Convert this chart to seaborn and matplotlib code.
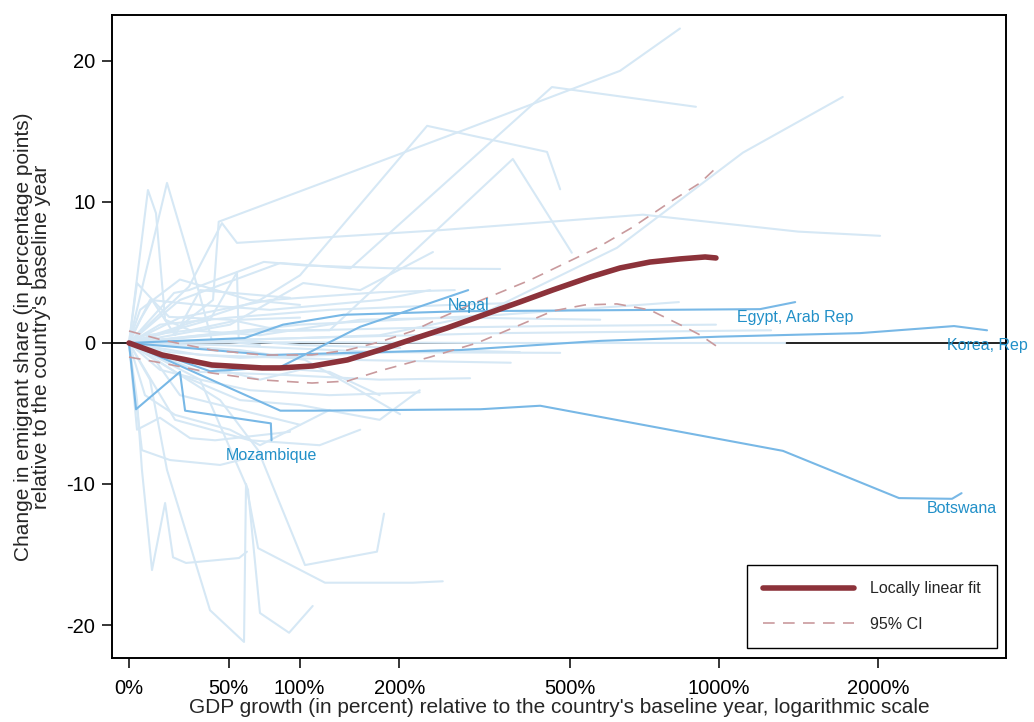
import numpy as np
import pandas as pd
import matplotlib
matplotlib.use("Agg")
import matplotlib.pyplot as plt
import seaborn as sns

# ---------------------------------------------------------------------------
# Data: GDP growth since the baseline year (percent) and change in the
# emigrant share (percentage points), one path per country.
# ---------------------------------------------------------------------------
bg_growth = [
    [0, 20.6, 40.7, 44, 284, 636, 839],
    [0, 27.6, 45.9, 55.1, 254, 708, 1417, 2018],
    [0, 70.3, 100.4, 236, 447, 477],
    [0, 23, 84.8, 146, 458, 902],
    [0, 63.5, 126, 376, 505],
    [0, 100.4, 177, 317, 627, 1113, 1720],
    [0, 3.3, 5.4, 9.8, 15.8, 19.6, 26.1, 56.4, 61.5],
    [0, 8.9, 16.7, 39, 59.6, 60.9, 69, 121.8, 217, 258],
    [0, 33.5, 62.2, 70.3, 91.7, 111],
    [0, 44.8, 69, 104.5, 174, 182],
    [0, 8.0, 11.6, 15.8, 28.2, 57, 100.4],
    [0, 16.7, 25, 33, 40, 70.3],
    [0, 3.3, 12.1, 17.7, 50.8, 84.8],
    [0, 20.1, 27.6, 73, 104.5, 189, 352],
    [0, 39, 55.1, 56.2, 100.4, 201],
    [0, 4.6, 9.8, 20.6, 33.5, 92.4],
    [0, 33.5, 100.4, 201, 352, 579, 835],
    [0, 63.5, 201, 454, 987],
    [0, 100.4, 352, 698, 1260],
    [0, 100.4, 352, 1340],
    [0, 44.8, 177, 477],
    [0, 33.5, 146, 372],
    [0, 23, 77.4, 177, 276],
    [0, 50.8, 103, 156, 244],
    [0, 13.4, 33.5, 63.5, 126, 226],
    [0, 6.7, 20.6, 50.8, 70.3, 126],
    [0, 3.3, 13.4, 28.2, 41.9, 92.4],
    [0, 5.4, 18.1, 44.8, 70.3],
    [0, 23, 57, 100.4, 177, 226],
    [0, 33.5, 70.3, 100.4, 126, 177],
    [0, 11.1, 23, 57, 100.4],
    [0, 57, 104.5, 146, 201],
    [0, 8.9, 33.5, 77.4, 177, 240],
    [0, 13.4, 50.8, 126, 269, 390],
    [0, 6.7, 28.2, 70.3, 156, 284, 579],
    [0, 4.6, 23, 63.5, 100.4],
    [0, 18.1, 57, 126, 254, 390],
    [0, 33.5, 84.8, 177, 300],
    [0, 20.6, 63.5, 117, 156],
]
bg_change = [
    [0, 0.9, 3.05, 8.6, 15.0, 19.3, 22.3],
    [0, 4.0, 8.5, 7.1, 8.0, 9.1, 7.9, 7.6],
    [0, 3.05, 4.8, 15.4, 13.55, 10.9],
    [0, 3.05, 5.67, 5.3, 18.15, 16.75],
    [0, 0.9, 0.9, 13.05, 6.4],
    [0, 0.35, 0.55, 2.0, 6.75, 13.5, 17.45],
    [0, -4.05, -9.0, -16.1, -11.35, -15.2, -15.6, -15.25, -14.8],
    [0, -2.6, -9.0, -18.95, -21.2, -10.0, -14.55, -17.0, -17.0, -16.9],
    [0, -2.6, -10.4, -19.15, -20.55, -18.65],
    [0, -4.05, -7.6, -15.75, -14.8, -12.1],
    [0, 10.85, 9.2, 1.65, 0.9, 1.65, 1.8],
    [0, 11.35, 7.3, 3.55, 0.2, -0.15],
    [0, 4.25, 2.7, 1.85, 1.65, 0.9],
    [0, 3.55, 3.75, 5.75, 5.5, 5.3, 5.25],
    [0, 1.65, 5.0, 0.2, -0.15, -0.35],
    [0, 1.65, 3.05, 0.55, 3.75, 3.2],
    [0, 0.55, 1.3, 1.65, 2.0, 2.5, 2.9],
    [0, 0.8, 1.05, 1.2, 1.3],
    [0, 0.35, 0.7, 0.8, 0.9],
    [0, 0.05, 0, 0],
    [0, -0.15, -0.65, -0.7],
    [0, -0.85, -1.2, -1.4],
    [0, 1.8, 3.05, 3.6, 3.75],
    [0, 1.3, 4.25, 3.75, 6.45],
    [0, -1.9, -2.6, -3.35, -3.7, -3.5],
    [0, -3.7, -5.1, -6.15, -7.25, -4.75],
    [0, -6.15, -5.3, -6.75, -6.9, -6.3],
    [0, -7.6, -8.3, -8.65, -7.95],
    [0, -2.25, -4.05, -4.4, -5.45, -3.35],
    [0, -1.55, -2.6, -1.9, -2.05, -3.7],
    [0, -1.2, -3.7, -4.75, -5.8],
    [0, -0.5, -1.2, -3.0, -5.05],
    [0, 3.05, 2.7, 2.35, 3.05, 3.75],
    [0, 1.3, 1.8, 2.35, 2.7, 2.85],
    [0, 0.55, 0.9, 0.55, 1.65, 1.8, 1.65],
    [0, 2.35, 4.5, 3.05, 2.7],
    [0, -0.65, -1.05, -0.85, -0.5, -0.65],
    [0, -2.05, -2.25, -2.6, -2.5],
    [0, -5.45, -6.9, -7.25, -6.15],
]

# Highlighted countries
nepal_growth = [0, 39, 85, 156, 297]
nepal_change = [0, -2.0, -1.7, 1.15, 3.75]
egypt_growth = [0, 60, 87, 139, 284, 1200, 1400]
egypt_change = [0, 0.35, 1.3, 2.0, 2.25, 2.4, 2.9]
korea_growth = [0, 77, 284, 579, 1005, 1853, 2761, 3172]
korea_change = [0, -0.85, -0.5, 0.15, 0.45, 0.7, 1.2, 0.9]
botswana_growth = [0, 85, 111, 317, 432, 1327, 2188, 2738, 2850]
botswana_change = [0, -4.8, -4.8, -4.7, -4.45, -7.65, -11.0, -11.05, -10.65]
mozambique_growth = [0, 2.9, 23, 25.6, 78, 78.5]
mozambique_change = [0, -4.7, -2.05, -4.8, -5.7, -6.9]

highlight_names = ["Nepal", "Egypt, Arab Rep", "Korea, Rep", "Botswana", "Mozambique"]
highlight_growth = [nepal_growth, egypt_growth, korea_growth, botswana_growth, mozambique_growth]
highlight_change = [nepal_change, egypt_change, korea_change, botswana_change, mozambique_change]

# Locally linear fit and its 95% confidence band
fit_growth = [0, 14.4, 40, 71.7, 84.8, 111, 143, 177, 217, 264, 332, 390, 460, 552, 636, 731, 839, 940, 987]
fit_change = [0, -0.85, -1.56, -1.77, -1.77, -1.63, -1.2, -0.5, 0.28, 1.06, 2.13, 2.91, 3.76, 4.68, 5.32, 5.74, 5.96, 6.1, 6.03]
ci_upper_growth = [0, 14.4, 40, 71.7, 110.4, 143, 177, 217, 254, 311.5, 411, 570, 676, 813, 919, 987]
ci_upper_change = [0.85, 0.21, -0.5, -0.85, -0.85, -0.5, 0.07, 0.85, 1.77, 2.91, 4.47, 6.74, 8.23, 10.14, 11.35, 12.41]
ci_lower_growth = [0, 14.4, 40, 71.7, 110.4, 143, 177, 240, 311.5, 390, 460, 538, 627, 731, 858, 919, 987]
ci_lower_change = [-1.0, -1.42, -2.13, -2.62, -2.84, -2.7, -1.98, -1.0, 0.0, 1.28, 2.27, 2.7, 2.77, 2.34, 1.13, 0.57, -0.2]

x_ticks = [0, 50, 100, 200, 500, 1000, 2000]
x_tick_labels = ["0%", "50%", "100%", "200%", "500%", "1000%", "2000%"]
y_ticks = [-20, -10, 0, 10, 20]
y_tick_labels = ["-20", "-10", "0", "10", "20"]

# ---------------------------------------------------------------------------
LIGHT = "#d6e8f5"
MEDIUM = "#78b8e6"
LABEL = "#2290c8"
FIT = "#8c323a"
CI = "#c99a9d"

sns.set_theme(style="ticks")
plt.rcParams["font.family"] = ["Liberation Sans", "DejaVu Sans"]


def long_frame(growths, changes, prefix):
    rows = []
    for i, (g, c) in enumerate(zip(growths, changes)):
        for order, (gv, cv) in enumerate(zip(g, c)):
            rows.append({"unit": f"{prefix}{i}", "order": order, "growth": gv, "change": cv})
    return pd.DataFrame(rows)


bg_df = long_frame(bg_growth, bg_change, "bg")
hl_df = long_frame(highlight_growth, highlight_change, "hl")


def fwd(g):
    g = np.asarray(g, dtype=float)
    return np.log1p(np.clip(g, -99.0, None) / 100.0)


def inv(v):
    return np.expm1(np.asarray(v, dtype=float)) * 100.0


fig = plt.figure(figsize=(10.34, 7.22), dpi=100)
ax = fig.add_axes([112 / 1034, 1 - 658 / 722, (1006 - 112) / 1034, (658 - 15) / 722])
ax.set_xscale("function", functions=(fwd, inv))

ax.axhline(0, color="#222222", lw=1.4, zorder=1)

sns.lineplot(data=bg_df, x="growth", y="change", units="unit", estimator=None,
             sort=False, color=LIGHT, lw=1.5, ax=ax, zorder=2, legend=False)
sns.lineplot(data=hl_df, x="growth", y="change", units="unit", estimator=None,
             sort=False, color=MEDIUM, lw=1.5, ax=ax, zorder=3, legend=False)

sns.lineplot(x=ci_upper_growth, y=ci_upper_change, sort=False, color=CI, lw=1.2,
             ax=ax, zorder=4, label="95% CI")
sns.lineplot(x=ci_lower_growth, y=ci_lower_change, sort=False, color=CI, lw=1.2,
             ax=ax, zorder=4)
sns.lineplot(x=fit_growth, y=fit_change, sort=False, color=FIT, lw=4.0,
             ax=ax, zorder=5, label="Locally linear fit")

for line in ax.get_lines():
    if matplotlib.colors.to_hex(line.get_color()) == CI:
        line.set_dashes((7, 5))

for name, g, c in zip(highlight_names, highlight_growth, highlight_change):
    ax.annotate(name, xy=(g[-1], c[-1]), xytext=(0, -11), textcoords="offset points",
                ha="center", va="center", color=LABEL, fontsize=11.5,
                annotation_clip=False, zorder=6)

ax.set_xlim(-6.68, 3434)
ax.set_ylim(-22.34, 23.26)
ax.set_xticks(x_ticks)
ax.set_xticklabels(x_tick_labels)
ax.set_yticks(y_ticks)
ax.set_yticklabels(y_tick_labels)
ax.xaxis.set_minor_locator(matplotlib.ticker.NullLocator())
ax.tick_params(axis="both", direction="out", length=7, width=1.1, color="black",
               labelsize=14.5, labelcolor="black")
ax.tick_params(axis="x", pad=8)
ax.tick_params(axis="y", pad=5)
for sp in ax.spines.values():
    sp.set_visible(True)
    sp.set_color("black")
    sp.set_linewidth(1.4)

ax.set_xlabel("GDP growth (in percent) relative to the country's baseline year, logarithmic scale",
              fontsize=15, labelpad=0)
ax.set_ylabel("Change in emigrant share (in percentage points)\nrelative to the country's baseline year",
              fontsize=15, labelpad=11, linespacing=0.95)

handles, labels = ax.get_legend_handles_labels()
order = [labels.index("Locally linear fit"), labels.index("95% CI")]
leg = ax.legend([handles[i] for i in order], [labels[i] for i in order],
                loc="lower right", bbox_to_anchor=(0.9899, 0.0156), borderaxespad=0,
                frameon=True, fancybox=False, framealpha=1, edgecolor="black",
                fontsize=11.5, handlelength=5.7, handletextpad=1.0, labelspacing=1.3,
                borderpad=1.0)
leg.get_frame().set_linewidth(1.0)

fig.savefig("out.png", dpi=100)
